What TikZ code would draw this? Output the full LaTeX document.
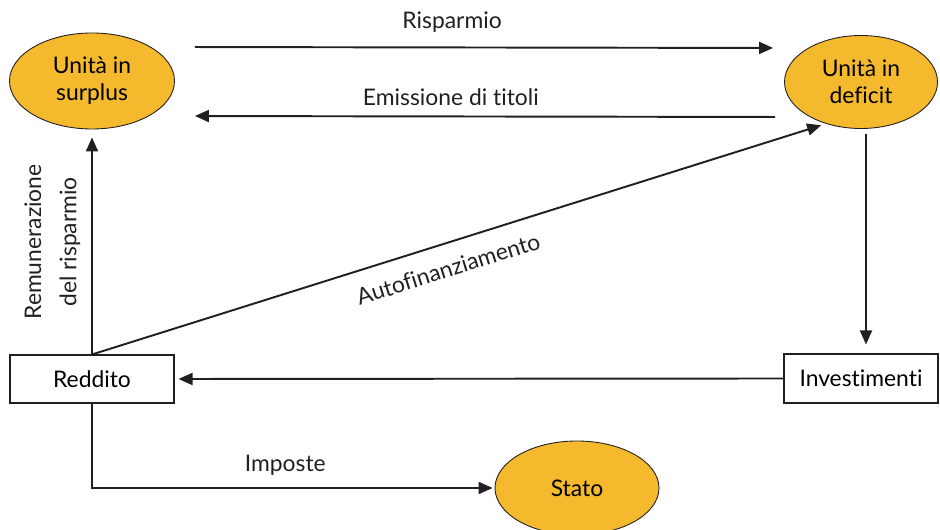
\documentclass[tikz,border=0pt]{standalone}
\usepackage{fontspec}
\setmainfont{Lato}[Ligatures=NoCommon]
\usetikzlibrary{positioning,arrows.meta,shapes.geometric}
\definecolor{linea}{HTML}{231F20}
\definecolor{giallo}{HTML}{F4B92C}
\tikzset{>={Triangle[length=0.28cm,width=0.24cm]},
  unita/.style={draw=linea,line width=0.5pt,fill=giallo,ellipse,inner sep=0pt,align=center,font=\fontsize{13}{15.5}\selectfont},
  voce/.style={draw=linea,line width=0.6pt,rectangle,inner sep=0pt,font=\fontsize{13}{15.5}\selectfont},
  flusso/.style={->,draw=linea,line width=1.1pt},
  testo/.style={font=\fontsize{13}{15.5}\selectfont,text=linea}}

\begin{document}
\begin{tikzpicture}
\useasboundingbox (0,0) rectangle (18.8,10.6);
\clip (0,0) rectangle (18.8,10.6);
% nodi
\node[unita,minimum width=3.3cm,minimum height=1.92cm] (surplus) at (1.84,8.98) {Unità in\\surplus};
\node[unita,minimum width=3.06cm,minimum height=1.86cm] (deficit) at (17.22,8.96) {Unità in\\deficit};
\node[voce,minimum width=3.28cm,minimum height=0.96cm] (reddito) at (1.84,3.02) {Reddito};
\node[voce,minimum width=3.08cm,minimum height=0.98cm] (invest) at (17.22,3.03) {Investimenti};
\node[unita,minimum width=3.28cm,minimum height=1.88cm] (stato) at (11.54,0.84) {Stato};
% flussi
\draw[flusso,shorten <=0.4cm,shorten >=0.22cm] ([yshift=0.68cm]surplus.east) -- ([yshift=0.68cm]deficit.west)
  node[testo,pos=.455,yshift=0.5cm] {Risparmio};
\draw[flusso,shorten <=0.18cm,shorten >=0.4cm] ([yshift=-0.7cm]deficit.west) -- ([yshift=-0.7cm]surplus.east)
  node[testo,pos=.547,yshift=0.38cm] {Emissione di titoli};
\draw[flusso,shorten >=0.1cm] (reddito.north) -- (deficit.230)
  node[testo,pos=.475,sloped,below=0.2cm] {Autofinanziamento};
\draw[flusso,shorten >=0.16cm] (reddito.north) -- (surplus.south)
  node[testo,midway,sloped,above=0.1cm,align=center,font=\fontsize{13}{20}\selectfont] {Remunerazione\\del risparmio};
\draw[flusso,shorten <=0.1cm,shorten >=0.18cm] ([xshift=0.1cm]deficit.south) -- ([xshift=0.1cm]invest.north);
\draw[flusso,shorten >=0.08cm] (invest.west) -- (reddito.east);
\draw[flusso,shorten >=0.04cm] (reddito.south) |- (stato.west)
  node[testo,pos=.74,yshift=0.46cm] {Imposte};
\end{tikzpicture}
\end{document}
